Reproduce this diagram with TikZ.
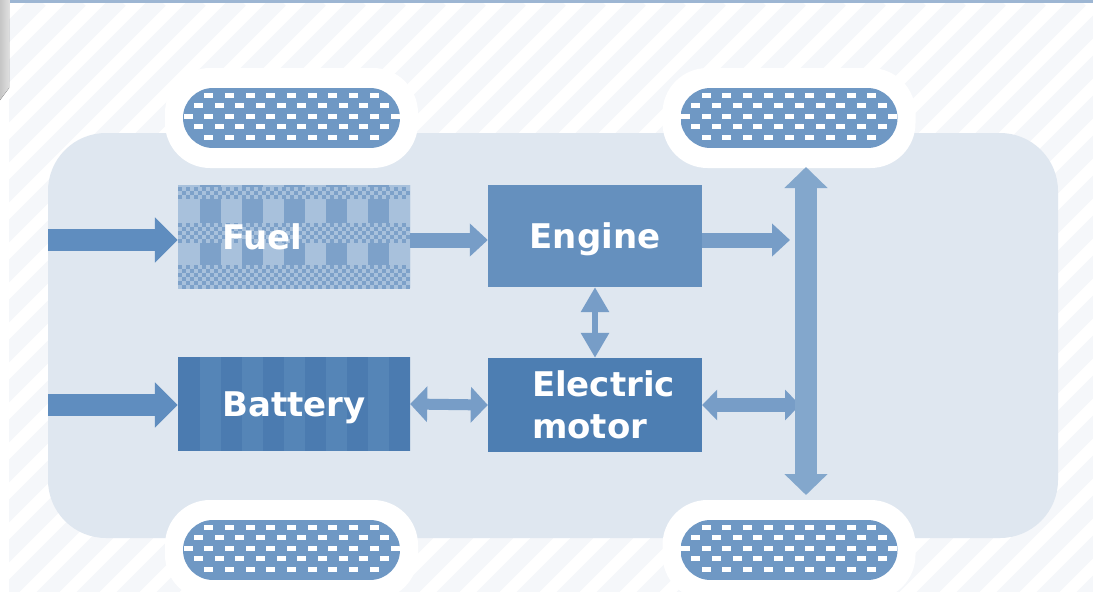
\documentclass[tikz,border=0pt]{standalone}
\usepackage{fontspec}
\setmainfont{DejaVu Sans}
\usepackage{xcolor}
\usetikzlibrary{arrows.meta,positioning,calc}
\pgfdeclarelayer{backdrop}
\pgfdeclarelayer{fills}
\pgfsetlayers{backdrop,fills,main}
\definecolor{body}{HTML}{DFE7F0}
\definecolor{stripecol}{HTML}{F5F7FA}
\definecolor{topline}{HTML}{9DB6D3}
\definecolor{tirecol}{HTML}{6F98C4}
\definecolor{fuellight}{HTML}{A8C1DC}
\definecolor{fueldark}{HTML}{7DA1C9}
\definecolor{enginecol}{HTML}{6590BE}
\definecolor{motorcol}{HTML}{4D7EB2}
\definecolor{battcol}{HTML}{4B7BB0}
\definecolor{battstripe}{HTML}{5585B7}
\definecolor{feedcol}{HTML}{5F8DBF}
\definecolor{linkcol}{HTML}{779DC7}
\definecolor{axlecol}{HTML}{83A7CC}
\tikzset{
  unit/.style={inner sep=0pt,align=center,text=white,font=\bfseries\fontsize{34}{42}\selectfont},
  oneline/.style={text height=25pt,text depth=0pt},
  widebox/.style={unit,minimum width=232pt},
  narrowbox/.style={unit,minimum width=214pt},
  feed/.style={line width=22pt,color=feedcol,-{Triangle[length=23pt,width=44pt]}},
  link/.style={line width=15pt,color=linkcol,-{Triangle[length=18pt,width=32pt]}},
  spoke/.style={line width=6pt,color=linkcol,{Triangle[length=25pt,width=27pt]}-{Triangle[length=25pt,width=27pt]}},
  duplex/.style={line width=11pt,color=linkcol,{Triangle[length=17pt,width=35pt]}-{Triangle[length=17pt,width=35pt]}},
  axle/.style={line width=22pt,color=axlecol,{Triangle[length=21pt,width=42pt]}-{Triangle[length=21pt,width=42pt]}},
  tirepad/.style={fill=white,rounded corners=45pt},
  stripe/.style={line width=16pt,color=stripecol},
}
\newcommand{\tire}[2]{%
  \fill[tirepad] (#1-126.5,#2-50) rectangle (#1+126.5,#2+50);
  \begin{scope}
    \clip[rounded corners=30pt] (#1-108.5,#2-30) rectangle (#1+108.5,#2+30);
    \fill[tirecol] (#1-108.5,#2-30) rectangle (#1+108.5,#2+30);
    \foreach \r/\o/\a/\b in {0/0/-4/4,1/0.5/-5/4,2/0/-5/5,3/0.5/-5/4,4/0/-4/4}
      \foreach \j in {\a,...,\b}
        \fill[white] ({#1+(\j+\o)*20.7-4.5},{#2-25.5+\r*10.5}) rectangle ++(9,5);
  \end{scope}}

\begin{document}
\begin{tikzpicture}[x=1pt,y=-1pt]
    \useasboundingbox (0,0) rectangle (1093,592);
    % units
    \node[widebox,oneline,minimum height=103pt,text width=144pt,inner xsep=44pt,align=left] (fuel) at (294,237) {Fuel};
    \node[narrowbox,oneline,minimum height=102pt] (engine) at (595,236) {Engine};
    \node[widebox,oneline,minimum height=94pt] (battery) at (294,404) {Battery};
    \node[narrowbox,minimum height=94pt,text width=126pt,align=left] (motor) at (595,405) {Electric\\motor};
    \begin{pgfonlayer}{backdrop}
      % background
      \fill[white] (0,0) rectangle (1093,592);
      \begin{scope}
        \clip (9,0) rectangle (1093,592);
        \foreach \i in {-600,-560,...,1700} \draw[stripe] (\i,600) -- (\i+600,0);
      \end{scope}
      \fill[left color=gray!45,right color=gray!25] (0,0) -- (9,0) -- (9,88) -- (0,100) -- cycle;
      \fill[topline] (10,0) rectangle (1093,3);
      % car body
      \fill[body,rounded corners=58pt] (48,133) rectangle (1058,538);
      % tires
      \tire{291.5}{118}
      \tire{789}{118}
      \tire{291.5}{550}
      \tire{789}{550}
    \end{pgfonlayer}
    \begin{pgfonlayer}{fills}
      \fill[enginecol] (engine.north west) rectangle (engine.south east);
      \fill[motorcol] (motor.north west) rectangle (motor.south east);
      % fuel pattern
      \begin{scope}
        \clip (fuel.north west) rectangle (fuel.south east);
        \fill[fuellight] (fuel.north west) rectangle (fuel.south east);
        \begin{scope}[shift={(fuel.north west)}]
          \foreach \c in {0,...,5} \fill[fueldark] (22+\c*42,0) rectangle ++(21,103);
          % checker bands
          \foreach \y/\n in {2/2,38/4,80/5} {
            \fill[fuellight] (0,\y) rectangle (232,\y+4*\n+4);
            \foreach \r in {0,...,\n} \foreach \i in {0,...,28}
              \fill[fueldark] ({\i*8+mod(\r,2)*4},{\y+\r*4}) rectangle ++(4,4);
          }
        \end{scope}
      \end{scope}
      % battery pattern
      \begin{scope}
        \clip (battery.north west) rectangle (battery.south east);
        \fill[battcol] (battery.north west) rectangle (battery.south east);
        \foreach \c in {0,...,5} \fill[battstripe] ($(battery.north west)+(22+\c*42,0)$) rectangle ++(21,94);
      \end{scope}
    \end{pgfonlayer}
    % free ends
    \coordinate (in1) at (48,240);
    \coordinate (in2) at (48,405);
    \coordinate (axT) at (806,167);
    \coordinate (axB) at (806,495);
    \coordinate (drv1) at (790,240);
    \coordinate (drv2) at (800,405);
    % flows
    \draw[feed] (in1) -- (in1 -| fuel.west);
    \draw[feed] (in2) -- (in2 -| battery.west);
    \draw[link] (fuel.east |- 0,240) -- (engine.west |- 0,240);
    \draw[link] (engine.east |- drv1) -- (drv1);
    \draw[spoke] (engine.south) -- (motor.north);
    \draw[duplex] (battery.east) -- (motor.west);
    \draw[duplex,line width=14pt,{Triangle[length=15pt,width=30pt]}-{Triangle[length=15pt,width=30pt]}] (motor.east |- drv2) -- (drv2);
    \draw[axle] (axB) -- (axT);
  \end{tikzpicture}
\end{document}
